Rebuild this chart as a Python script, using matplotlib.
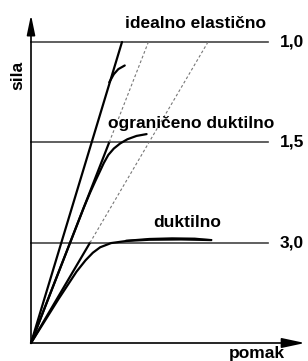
import matplotlib
matplotlib.use("Agg")
import matplotlib.pyplot as plt

plt.rcParams['font.family'] = ['Liberation Sans', 'DejaVu Sans']

# behaviour factors q and the force levels 1/q (elastic force = 1)
q_values = [1.0, 1.5, 3.0]
q_labels = ['1,0', '1,5', '3,0']
force_levels = [1.0 / q for q in q_values]

# idealno elastično
elastic_d = [0.0, 1.0]
elastic_f = [0.0, 1.0]
stub_d = [0.86, 0.91, 0.96, 1.03]
stub_f = [0.866, 0.893, 0.910, 0.922]

# ograničeno duktilno
limited_line_d = [0.0, 0.86]
limited_line_f = [0.0, 0.667]
limited_dash_d = [0.86, 1.29]
limited_dash_f = [0.667, 1.0]
limited_curve_d = [0.0, 0.58, 0.65, 0.71, 0.76, 0.80, 0.85, 0.91, 0.98, 1.06, 1.16, 1.27]
limited_curve_f = [0.0, 0.45, 0.50, 0.54, 0.572, 0.598, 0.625, 0.646, 0.663, 0.677, 0.688, 0.694]

# duktilno
ductile_line_d = [0.0, 0.648]
ductile_line_f = [0.0, 0.333]
ductile_dash_d = [0.648, 1.945]
ductile_dash_f = [0.333, 1.0]
ductile_curve_d = [0.0, 0.30, 0.50, 0.60, 0.68, 0.76, 0.88, 1.05, 1.30, 1.65, 1.98]
ductile_curve_f = [0.0, 0.145, 0.237, 0.275, 0.300, 0.318, 0.332, 0.339, 0.343, 0.344, 0.342]
ductile_top_d = [1.05, 1.30, 1.55, 1.80, 1.98]
ductile_top_f = [0.340, 0.346, 0.348, 0.347, 0.342]

fig = plt.figure(figsize=(3.08, 3.61), dpi=100)
ax = fig.add_axes([0, 0, 1, 1])
ax.set_xlim(-31 / 91, 277 / 91)
ax.set_ylim(-18 / 301, 343 / 301)
ax.axis('off')

# axes with arrows
ax.annotate('', xy=(0, 1.09), xytext=(0, 0),
            arrowprops=dict(arrowstyle='-|>,head_length=1.2,head_width=0.25',
                            color='black', lw=1.2, shrinkA=0, shrinkB=0))
ax.annotate('', xy=(3.01, 0), xytext=(0, 0),
            arrowprops=dict(arrowstyle='-|>,head_length=1.4,head_width=0.3',
                            color='black', lw=1.2, shrinkA=0, shrinkB=0))

# horizontal force levels
for f, lab in zip(force_levels, q_labels):
    ax.plot([0, 2.6], [f, f], color='#444444', lw=1.2)
    ax.text(2.73, f, lab, fontsize=12.5, fontweight='bold', va='center', ha='left')

solid = dict(color='black', lw=1.6, solid_capstyle='round')
dashed = dict(color='#777777', lw=0.8, ls=(0, (2.5, 2)))

ax.plot(elastic_d, elastic_f, **solid)
ax.plot(stub_d, stub_f, **solid)

ax.plot(limited_line_d, limited_line_f, **solid)
ax.plot(limited_curve_d, limited_curve_f, **solid)
ax.plot(limited_dash_d, limited_dash_f, **dashed)

ax.plot(ductile_line_d, ductile_line_f, **solid)
ax.plot(ductile_curve_d, ductile_curve_f, **solid)
ax.plot(ductile_top_d, ductile_top_f, color='black', lw=1.4)
ax.plot(ductile_dash_d, ductile_dash_f, **dashed)

# labels
txt = dict(fontsize=12.5, fontweight='bold', ha='center', va='center')
ax.text(1.81, 1.06, 'idealno elastično', **txt)
ax.text(1.76, 0.73, 'ograničeno duktilno', **txt)
ax.text(1.72, 0.40, 'duktilno', **txt)
ax.text(-0.14, 0.89, 'sila', rotation=90, **txt)
ax.text(2.48, -0.034, 'pomak', **txt)

fig.savefig('out.png', dpi=100)
